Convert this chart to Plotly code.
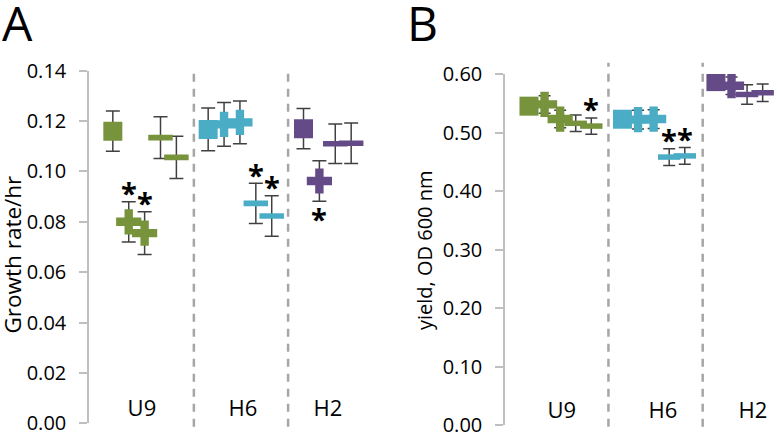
import plotly.graph_objects as go

# ---------------- data ----------------
groups = ["U9", "H6", "H2"]
group_colors = ["#77933C", "#4BACC6", "#644B87"]

shapes_u9 = ["square", "cross", "cross", "dash", "dash"]
shapes_h6 = ["square", "cross", "cross", "dash", "dash"]
shapes_h2 = ["square", "cross", "dash", "dash"]

# Panel A: growth rate (1/hr)
growth_u9 = [0.116, 0.080, 0.0755, 0.1134, 0.1056]
growth_h6 = [0.1167, 0.1187, 0.1195, 0.0873, 0.0823]
growth_h2 = [0.117, 0.0962, 0.111, 0.1112]
growth_err_u9 = [0.008, 0.008, 0.0085, 0.0083, 0.0084]
growth_err_h6 = [0.0085, 0.0087, 0.0085, 0.008, 0.008]
growth_err_h2 = [0.008, 0.008, 0.0078, 0.008]
growth_star_u9 = ["", "above", "above", "", ""]
growth_star_h6 = ["", "", "", "above", "above"]
growth_star_h2 = ["", "below", "", ""]

# Panel B: yield, OD 600 nm
yield_u9 = [0.545, 0.548, 0.523, 0.5157, 0.511]
yield_h6 = [0.5227, 0.522, 0.523, 0.458, 0.460]
yield_h2 = [0.587, 0.580, 0.565, 0.568]
yield_err_u9 = [0.010, 0.015, 0.015, 0.0142, 0.014]
yield_err_h6 = [0.010, 0.016, 0.016, 0.0142, 0.0142]
yield_err_h2 = [0.010, 0.015, 0.0165, 0.015]
yield_star_u9 = ["", "", "", "", "above"]
yield_star_h6 = ["", "", "", "above", "above"]
yield_star_h2 = ["", "", "", ""]

shapes_all = [shapes_u9, shapes_h6, shapes_h2]
panelA = dict(vals=[growth_u9, growth_h6, growth_h2],
              errs=[growth_err_u9, growth_err_h6, growth_err_h2],
              stars=[growth_star_u9, growth_star_h6, growth_star_h2])
panelB = dict(vals=[yield_u9, yield_h6, yield_h2],
              errs=[yield_err_u9, yield_err_h6, yield_err_h2],
              stars=[yield_star_u9, yield_star_h6, yield_star_h2])

group_start = [0, 6, 12]

FONT = "Open Sans"
ERR_COLOR = "#404040"

fig = go.Figure()
annotations = []


def add_panel(panel, xa, ya, sq, cr, da, dash_w, cap_w):
    for g, name in enumerate(groups):
        col = group_colors[g]
        vals = panel["vals"][g]
        errs = panel["errs"][g]
        stars = panel["stars"][g]
        shp = shapes_all[g]
        xs = [group_start[g] + i for i in range(len(vals))]
        # error bars first (markers are drawn over them)
        fig.add_trace(go.Scatter(
            x=xs, y=vals, mode="markers", xaxis=xa, yaxis=ya,
            marker=dict(size=1, color="rgba(0,0,0,0)"),
            error_y=dict(type="data", array=errs, visible=True,
                         color=ERR_COLOR, thickness=1.5, width=cap_w),
            showlegend=False, hoverinfo="skip"))
        for i, s in enumerate(shp):
            if s == "square":
                sym, size, lw = "square", sq, 0
            elif s == "cross":
                sym, size, lw = "cross", cr, 0
            else:
                sym, size, lw = "line-ew", da, dash_w
            fig.add_trace(go.Scatter(
                x=[xs[i]], y=[vals[i]], mode="markers", xaxis=xa, yaxis=ya,
                marker=dict(symbol=sym, size=size, color=col,
                            line=dict(width=lw, color=col)),
                showlegend=False, hoverinfo="skip"))
        # significance stars
        for i, st in enumerate(stars):
            if not st:
                continue
            if st == "above":
                yv = vals[i] + errs[i]; ysh = 9
            else:
                yv = vals[i] - errs[i]; ysh = -17
            annotations.append(dict(
                x=xs[i], y=yv, xref=xa, yref=ya, text="*", showarrow=False,
                yanchor="middle", yshift=ysh,
                font=dict(family=FONT, size=29, color="black", weight="bold")))


add_panel(panelA, "x", "y", 19, 21, 17.5, 5.7, 7)
add_panel(panelB, "x2", "y2", 19, 21, 16, 5.5, 6)

# dashed separators in each panel
sep_A = [5.1, 11.03]
sep_B = [5.1, 11.15]
shapes = []
for xv in sep_A:
    shapes.append(dict(type="line", xref="x", yref="paper", x0=xv, x1=xv,
                       y0=-0.02, y1=0.845,
                       line=dict(color="#a6a6a6", width=2.5, dash="8px,7px")))
for xv in sep_B:
    shapes.append(dict(type="line", xref="x2", yref="paper", x0=xv, x1=xv,
                       y0=-0.02, y1=0.855,
                       line=dict(color="#a6a6a6", width=2.5, dash="8px,7px")))

W, H = 777, 433

annotations += [
    dict(text="A", x=0 / W, y=1 + 12 / H, xref="paper", yref="paper",
         xanchor="left", yanchor="top", showarrow=False,
         font=dict(family=FONT, size=48, color="black")),
    dict(text="B", x=405 / W, y=1 + 12 / H, xref="paper", yref="paper",
         xanchor="left", yanchor="top", showarrow=False,
         font=dict(family=FONT, size=48, color="black")),
    dict(text="Growth rate/hr", x=11.5 / W, y=(H - 255) / H, xref="paper", yref="paper",
         xanchor="center", yanchor="middle", textangle=-90, showarrow=False,
         font=dict(family=FONT, size=22.5, color="black")),
    dict(text="yield, OD 600 nm", x=424 / W, y=(H - 250) / H, xref="paper", yref="paper",
         xanchor="center", yanchor="middle", textangle=-90, showarrow=False,
         font=dict(family=FONT, size=20, color="black")),
]

yaxis_common = dict(showgrid=False, zeroline=False, showline=True, linecolor="#bfbfbf",
                    linewidth=1.5, ticks="outside", ticklen=8, tickcolor="#bfbfbf",
                    tickwidth=1.5, tickformat=".2f", ticklabelstandoff=9,
                    automargin=False, ticklabeloverflow="allow",
                    tickfont=dict(family=FONT, size=20, color="black"))
xaxis_common = dict(showgrid=False, zeroline=False, showline=False, ticks="",
                    ticklabelposition="inside", automargin=False,
                    ticklabeloverflow="allow",
                    tickfont=dict(family=FONT, size=22, color="black"))

fig.update_layout(
    width=W, height=H, margin=dict(l=0, r=0, t=0, b=0, autoexpand=False),
    paper_bgcolor="white", plot_bgcolor="white",
    xaxis=dict(domain=[89 / W, 375 / W], range=[-1.5, 16.5],
               tickvals=[1.83, 8.19, 13.54], ticktext=groups, **xaxis_common),
    yaxis=dict(domain=[(H - 423.3) / H, (H - 70.7) / H], range=[0, 0.14],
               dtick=0.02, anchor="x", **yaxis_common),
    xaxis2=dict(domain=[505 / W, 1.0], range=[-1.54, 15.92], anchor="y2",
                tickvals=[2.1, 8.6, 14.38], ticktext=groups, **xaxis_common),
    yaxis2=dict(domain=[(H - 425) / H, (H - 74) / H], range=[0, 0.6],
                dtick=0.1, anchor="x2", **yaxis_common),
    shapes=shapes, annotations=annotations, showlegend=False,
)

fig.write_html(
    "out.html",
    config={"displayModeBar": False},
    post_script="document.body.style.margin='0';document.body.style.overflow='hidden';",
)
